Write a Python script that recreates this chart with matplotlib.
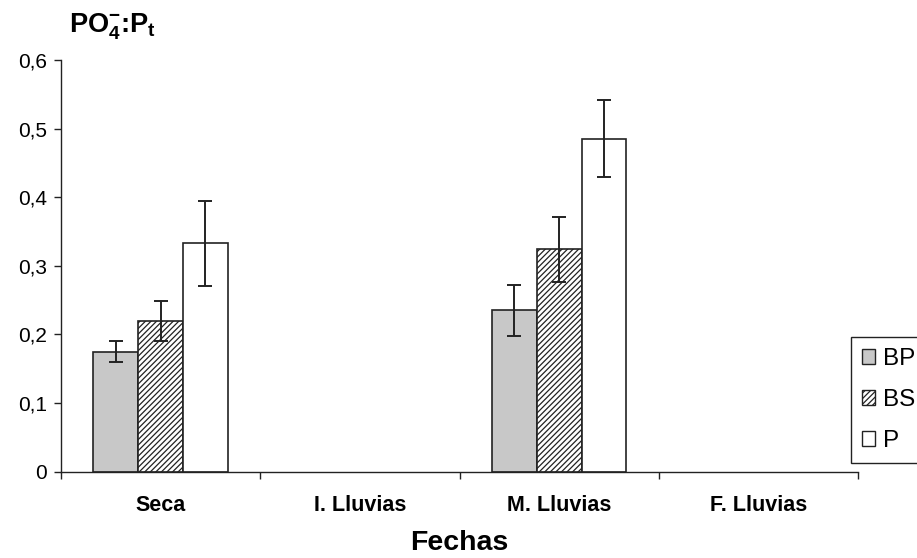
import numpy as np
import matplotlib
matplotlib.use("Agg")
import matplotlib.pyplot as plt
from matplotlib.patches import Patch

plt.rcParams['font.family'] = ['Liberation Sans', 'DejaVu Sans']
plt.rcParams['mathtext.fontset'] = 'custom'
plt.rcParams['mathtext.rm'] = 'Liberation Sans'
plt.rcParams['mathtext.bf'] = 'Liberation Sans:bold'
plt.rcParams['hatch.linewidth'] = 0.9
plt.rcParams['hatch.color'] = '#444444'

categories = ["Seca", "I. Lluvias", "M. Lluvias", "F. Lluvias"]
series = ["BP", "BS", "P"]
bp_vals = [0.175, np.nan, 0.235, np.nan]
bs_vals = [0.220, np.nan, 0.324, np.nan]
p_vals = [0.333, np.nan, 0.485, np.nan]
bp_err = [0.015, np.nan, 0.037, np.nan]
bs_err = [0.029, np.nan, 0.047, np.nan]
p_err = [0.062, np.nan, 0.056, np.nan]
yticks = [0, 0.1, 0.2, 0.3, 0.4, 0.5, 0.6]
ytick_labels = ["0", "0,1", "0,2", "0,3", "0,4", "0,5", "0,6"]

W, H = 917, 558
fig = plt.figure(figsize=(W / 100, H / 100), dpi=100)
ax = fig.add_axes([61 / W, 1 - 471.7 / H, (858 - 61) / W, (471.7 - 60) / H])

x = np.arange(len(categories))
width = 0.225
styles = [
    dict(facecolor='#c8c8c8', hatch=None),
    dict(facecolor='white', hatch='//////'),
    dict(facecolor='white', hatch=None),
]
handles = []
for i, (vals, errs, st, name) in enumerate(zip([bp_vals, bs_vals, p_vals],
                                               [bp_err, bs_err, p_err],
                                               styles, series)):
    vals = np.array(vals, dtype=float)
    errs = np.array(errs, dtype=float)
    m = ~np.isnan(vals)
    xs = x[m] + (i - 1) * width
    ax.bar(xs, vals[m], width=width, facecolor=st['facecolor'], hatch=st['hatch'],
           edgecolor='#222222', linewidth=1.2, zorder=2)
    ax.errorbar(xs, vals[m], yerr=errs[m], fmt='none', ecolor='#222222',
                elinewidth=1.4, capsize=5.3, capthick=1.4, zorder=3)
    handles.append(Patch(facecolor=st['facecolor'], hatch=st['hatch'],
                         edgecolor='#222222', linewidth=1.0, label=name))

ax.set_xlim(-0.5, len(categories) - 0.5)
ax.set_ylim(0, 0.6)
ax.set_yticks(yticks)
ax.set_yticklabels(ytick_labels, fontsize=15)
ax.set_xticks(x)
ax.set_xticklabels(categories, fontsize=15.5, fontweight='bold')
ax.set_xticks(np.arange(len(categories) + 1) - 0.5, minor=True)
ax.tick_params(axis='x', which='major', length=0, pad=17)
ax.tick_params(axis='x', which='minor', length=5, width=1.0, direction='out', color='#222222')
ax.tick_params(axis='y', length=5, width=1.0, direction='out', pad=5, color='#222222')
for s in ['top', 'right']:
    ax.spines[s].set_visible(False)
for s in ['left', 'bottom']:
    ax.spines[s].set_color('#222222')
    ax.spines[s].set_linewidth(1.0)

fig.text(459.5 / W, 1 - 543.5 / H, "Fechas", fontsize=20.5, fontweight='bold',
         ha='center', va='center')
fig.text(69 / W, 1 - 33 / H, r'PO$_\mathbf{4}^\mathbf{-}$:P$_\mathbf{t}$', fontsize=19.5,
         fontweight='bold', ha='left', va='baseline')

leg = fig.legend(handles=handles, loc='upper left', bbox_to_anchor=(851 / W, 1 - 337 / H),
                 fontsize=17.5, frameon=True, fancybox=False, framealpha=1,
                 edgecolor='#222222', handlelength=0.55, handleheight=0.55,
                 handletextpad=0.3, labelspacing=0.78, borderpad=0.45, borderaxespad=0)
leg.get_frame().set_linewidth(1.0)

fig.savefig("out.png", dpi=100)
